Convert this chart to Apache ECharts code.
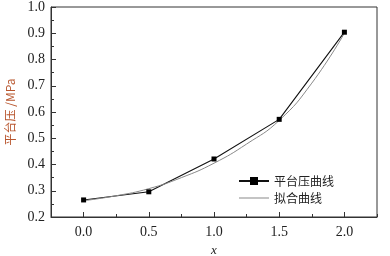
<!DOCTYPE html>
<html><head><meta charset="utf-8">
<script src="https://cdn.jsdelivr.net/npm/echarts@6/dist/echarts.min.js"></script>
<style>html,body{margin:0;padding:0;background:#fff}#c{width:390px;height:256px}</style>
</head><body><div id="c"></div>
<script>
const xTicks = [0, 0.5, 1.0, 1.5, 2.0];
const measuredX = [0, 0.5, 1.0, 1.5, 2.0];
const measuredY = [0.265, 0.296, 0.421, 0.572, 0.904];
const fitX = [0, 0.25, 0.5, 0.75, 1.0, 1.25, 1.5, 1.75, 2.0];
const fitY = [0.262, 0.281, 0.308, 0.350, 0.405, 0.478, 0.568, 0.710, 0.900];
const seriesNames = ['平台压曲线', '拟合曲线'];

const chart = echarts.init(document.getElementById('c'), null, {renderer: 'canvas'});
const labelFont = {fontFamily: '"Liberation Serif", "DejaVu Serif", serif', fontSize: 14, color: '#222'};
chart.setOption({
  animation: false,
  grid: {left: 51, right: 13, top: 7, bottom: 39, show: true, borderColor: '#333', borderWidth: 1,
         outerBoundsMode: 'none', containLabel: false},
  legend: {
    orient: 'vertical', left: 233, top: 170, itemWidth: 30, itemHeight: 10, itemGap: 5,
    textStyle: {fontFamily: '"Noto Sans CJK SC"', fontSize: 12, color: '#222'},
    data: [{name: seriesNames[0]}, {name: seriesNames[1], icon: 'path://M0,5 L30,5 L30,6 L0,6 Z', itemStyle: {color: '#888'}}]
  },
  xAxis: [{
    type: 'value', min: -0.25, max: 2.25, interval: 0.25,
    axisLine: {show: true, onZero: false, lineStyle: {color: '#333'}},
    axisTick: {inside: true, length: 3, lineStyle: {color: '#333'}},
    axisLabel: {show: false}, splitLine: {show: false}
  }, {
    type: 'value', min: -0.25, max: 2.25, position: 'bottom',
    name: 'x', nameLocation: 'middle', nameGap: 26,
    nameTextStyle: {fontFamily: '"Liberation Serif", serif', fontStyle: 'italic', fontSize: 13, color: '#222'},
    axisLine: {show: false, onZero: false},
    axisTick: {inside: true, length: 5, customValues: xTicks, lineStyle: {color: '#333'}},
    axisLabel: Object.assign({customValues: xTicks, margin: 8, formatter: v => v.toFixed(1)}, labelFont),
    splitLine: {show: false}
  }],
  yAxis: {
    type: 'value', min: 0.2, max: 1.0, interval: 0.1,
    name: '平台压 /MPa', nameLocation: 'middle', nameGap: 27, nameRotate: 90,
    nameTextStyle: {fontFamily: '"Noto Sans CJK SC"', fontSize: 12, color: '#b8562e'},
    axisLine: {show: true, onZero: false, lineStyle: {color: '#333'}},
    axisTick: {inside: true, length: 5, lineStyle: {color: '#333'}},
    minorTick: {show: true, splitNumber: 2, length: 3, lineStyle: {color: '#333'}},
    axisLabel: Object.assign({margin: 6, formatter: v => v.toFixed(1)}, labelFont),
    splitLine: {show: false}
  },
  series: [{
    name: seriesNames[0], type: 'line', xAxisIndex: 0,
    data: measuredX.map((x, i) => [x, measuredY[i]]),
    symbol: 'rect', symbolSize: 5,
    itemStyle: {color: '#000'}, lineStyle: {color: '#111', width: 1.1}
  }, {
    name: seriesNames[1], type: 'line', xAxisIndex: 0, smooth: true,
    data: fitX.map((x, i) => [x, fitY[i]]),
    symbol: 'none',
    itemStyle: {color: '#888'}, lineStyle: {color: '#888', width: 1}
  }]
});
</script></body></html>
